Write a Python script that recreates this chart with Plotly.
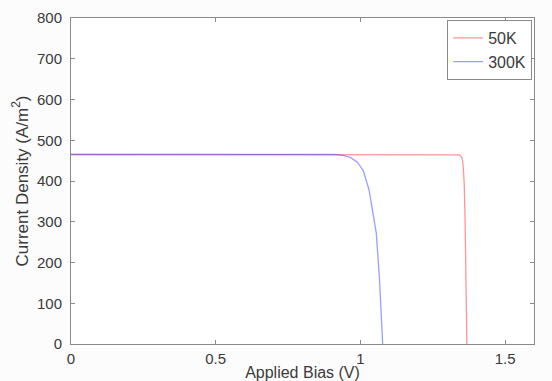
import plotly.graph_objects as go

# 50K curve (Applied bias V, current density A/m^2)
v_50k = [0.0, 1.33, 1.342, 1.349, 1.353, 1.356, 1.359, 1.362, 1.364, 1.366, 1.368]
j_50k = [465, 465, 464, 460, 450, 430, 390, 300, 200, 100, 0]

# 300K curve
v_300k = [0.0, 0.88, 0.91, 0.94, 0.965, 0.99, 1.01, 1.03, 1.045, 1.055, 1.066, 1.072, 1.077]
j_300k = [465, 465, 465, 463, 458, 446, 425, 378, 320, 272, 160, 80, 0]

x_ticks = [0, 0.5, 1, 1.5]
x_tick_labels = ["0", "0.5", "1", "1.5"]
y_ticks = [0, 100, 200, 300, 400, 500, 600, 700, 800]

fam = "Liberation Sans, Arial, sans-serif"
col = "#3a3a3a"
title_font = dict(family=fam, size=16, color=col)
xtick_font = dict(family=fam, size=15, color=col)
ytick_font = dict(family=fam, size=15, color=col)
legend_font = dict(family=fam, size=16, color=col)

fig = go.Figure()
fig.add_trace(go.Scatter(x=v_50k, y=j_50k, mode="lines", name="50K",
                         line=dict(color="rgba(255,60,60,0.55)", width=1.3)))
fig.add_trace(go.Scatter(x=v_300k, y=j_300k, mode="lines", name="300K",
                         line=dict(color="rgba(60,60,255,0.5)", width=1.3)))

axis_common = dict(showgrid=False, zeroline=False, showline=True, mirror="ticks",
                   linecolor="#8a8a8a", linewidth=1, ticks="inside", ticklen=4,
                   tickcolor="#8a8a8a", automargin=False)

fig.update_layout(
    width=552, height=381,
    margin=dict(l=71, r=18, t=18, b=37, autoexpand=False),
    paper_bgcolor="#fcfcfc", plot_bgcolor="white",
    font=title_font,
    xaxis=dict(range=[0, 1.6], tickvals=x_ticks, ticktext=x_tick_labels,
               tickfont=xtick_font, ticklabelstandoff=1,
               title=dict(text="Applied Bias (V)", font=title_font, standoff=1), **axis_common),
    yaxis=dict(range=[0, 800], tickvals=y_ticks, tickfont=ytick_font, ticklabelstandoff=5,
               title=dict(text="Current Density (A/m<sup>2</sup>)",
                          font=dict(family=fam, size=17, color=col), standoff=4),
               **axis_common),
    legend=dict(x=0.996, y=0.994, xanchor="right", yanchor="top",
                bgcolor="white", bordercolor="#8a8a8a", borderwidth=1,
                font=legend_font, tracegroupgap=0, itemwidth=30),
    showlegend=True,
)

fig.write_html("out.html")
